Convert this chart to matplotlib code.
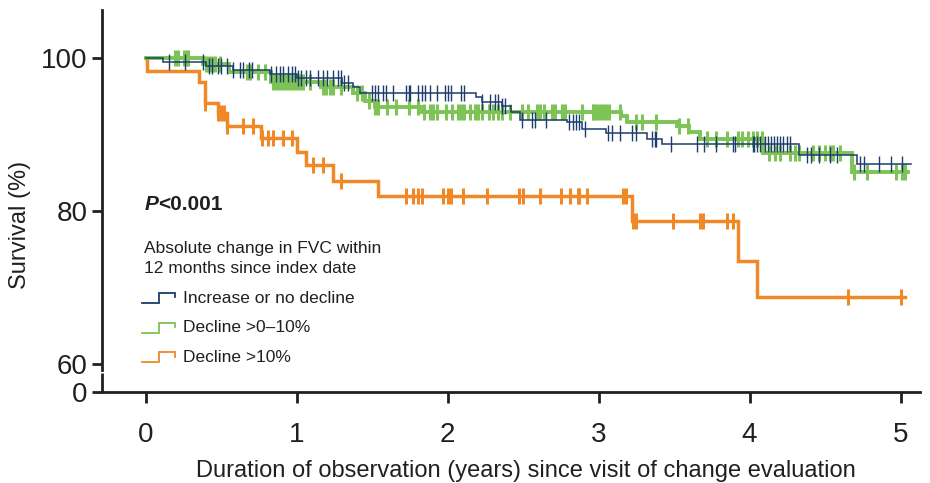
import numpy as np
import matplotlib
matplotlib.use('Agg')
from matplotlib import pyplot as plt

plt.rcParams['font.family'] = ['Liberation Sans', 'DejaVu Sans']

# Kaplan-Meier steps: time (years) and survival (%) after each step
inc_t = [0, 0.11, 0.40, 0.58, 0.82, 1.00, 1.30, 1.37, 1.42, 2.19, 2.23, 2.36, 2.42, 2.48,
         2.79, 2.89, 3.05, 3.32, 3.42, 4.33, 4.71]
inc_s = [100, 99.5, 99.0, 98.5, 98.0, 97.4, 96.8, 96.2, 95.5, 94.9, 94.3, 93.8, 93.0, 91.9,
         91.7, 90.8, 90.2, 89.5, 88.8, 87.4, 86.2]
inc_end = 5.07
inc_cens = [0.15, 0.26, 0.38, 0.42, 0.44, 0.48, 0.50, 0.54, 0.58, 0.62, 0.64, 0.68, 0.70,
            0.83, 0.86, 0.89, 0.91, 0.94, 0.97, 0.99, 1.01, 1.03, 1.06, 1.09, 1.14, 1.17,
            1.20, 1.24, 1.27, 1.29, 1.31, 1.34, 1.50, 1.52, 1.54, 1.57, 1.59, 1.64, 1.72,
            1.74, 1.75, 1.80, 1.83, 1.85, 1.88, 1.93, 1.98, 2.00, 2.02, 2.09, 2.11, 2.23,
            2.28, 2.31, 2.33, 2.36, 2.38, 2.49, 2.56, 2.58, 2.65, 2.80, 2.83, 2.85, 2.87,
            2.91, 3.06, 3.09, 3.14, 3.22, 3.25, 3.35, 3.37, 3.38, 3.48, 3.65, 3.70, 3.78,
            3.89, 3.90, 4.02, 4.03, 4.05, 4.07, 4.10, 4.12, 4.14, 4.16, 4.18, 4.20, 4.22,
            4.25, 4.27, 4.38, 4.41, 4.46, 4.53, 4.58, 4.73, 4.76, 4.86, 4.94, 5.01]

mid_t = [0, 0.38, 0.55, 0.83, 1.16, 1.37, 1.45, 1.52, 1.83, 3.15, 3.19, 3.52, 3.60, 3.67,
         4.09, 4.68]
mid_s = [100, 99.2, 98.2, 96.9, 96.3, 95.5, 94.4, 93.6, 93.0, 92.5, 91.7, 91.2, 90.4, 89.4,
         87.6, 85.1]
mid_end = 5.05
mid_cens = [0.19, 0.21, 0.25, 0.27, 0.28, 0.40, 0.42, 0.44, 0.46, 0.49, 0.67, 0.69, 0.74,
            0.79, 0.84, 0.86, 0.88, 0.90, 0.92, 0.94, 0.96, 0.98, 1.00, 1.02, 1.04, 1.09,
            1.17, 1.19, 1.22, 1.24, 1.29, 1.40, 1.43, 1.48, 1.52, 1.54, 1.60, 1.66, 1.74,
            1.80, 1.84, 1.88, 1.90, 1.93, 1.99, 2.03, 2.07, 2.09, 2.11, 2.15, 2.18, 2.20,
            2.23, 2.27, 2.30, 2.33, 2.36, 2.41, 2.49, 2.53, 2.59, 2.61, 2.64, 2.69, 2.71,
            2.76, 2.78, 2.89, 2.96, 2.97, 2.99, 3.01, 3.03, 3.05, 3.07, 3.14, 3.25, 3.29,
            3.38, 3.53, 3.59, 3.72, 3.78, 3.85, 3.92, 3.95, 3.99, 4.02, 4.05, 4.08, 4.13,
            4.17, 4.20, 4.27, 4.30, 4.33, 4.42, 4.46, 4.50, 4.53, 4.55, 4.60, 4.69, 4.78,
            4.97, 5.01, 5.03]

big_t = [0, 0.01, 0.35, 0.39, 0.48, 0.54, 0.76, 1.00, 1.06, 1.24, 1.54, 3.22, 3.92, 4.05]
big_s = [100, 98.4, 96.9, 94.1, 92.8, 91.2, 89.6, 87.8, 86.0, 84.0, 82.0, 78.7, 73.5, 68.8]
big_end = 5.03
big_cens = [0.39, 0.48, 0.50, 0.52, 0.54, 0.64, 0.71, 0.77, 0.81, 0.84, 0.91, 0.97, 1.11,
            1.17, 1.29, 1.72, 1.77, 1.80, 1.83, 1.97, 2.00, 2.02, 2.10, 2.26, 2.47, 2.50,
            2.61, 2.75, 2.81, 2.86, 2.87, 2.92, 3.16, 3.18, 3.23, 3.25, 3.49, 3.67, 3.69,
            3.85, 3.89, 4.65, 5.00]

groups = ['Increase or no decline', 'Decline >0\u201310%', 'Decline >10%']
colors = ['#1e3c6e', '#7dc355', '#f08828']
xticks = [0, 1, 2, 3, 4, 5]

y_zero = 56.4  # where the "0" tick sits below the axis break

fig = plt.figure(figsize=(9.3, 4.83), dpi=100)
ax = fig.add_axes([0.1094, 0.189, 0.880, 0.790])


def draw_km(t, s, end, cens, color, lw, cw):
    t = np.array(t + [end])
    s = np.array(s + [s[-1]])
    ax.step(t, s, where='post', color=color, lw=lw, solid_joinstyle='miter', zorder=3)
    c = np.array(cens)
    idx = np.searchsorted(t, c, side='right') - 1
    ax.plot(c, s[idx], ls='none', marker='|', ms=12, mew=cw, color=color, zorder=3)


draw_km(big_t, big_s, big_end, big_cens, colors[2], 2.5, 2.2)
draw_km(mid_t, mid_s, mid_end, mid_cens, colors[1], 2.8, 2.2)
draw_km(inc_t, inc_s, inc_end, inc_cens, colors[0], 1.1, 1.0)

ax.set_xlim(-0.293, 5.13)
ax.set_ylim(y_zero, 106.3)
ax.set_xticks(xticks)
ax.set_xticklabels([str(v) for v in xticks])
ax.set_yticks([y_zero, 60, 80, 100])
ax.set_yticklabels(['0', '60', '80', '100'])

axis_col = '#231f20'
for side in ['top', 'right']:
    ax.spines[side].set_visible(False)
ax.spines['bottom'].set_linewidth(2.0)
ax.spines['bottom'].set_color(axis_col)
ax.spines['left'].set_linewidth(2.0)
ax.spines['left'].set_color(axis_col)
# broken y axis between 0 and 60
ax.spines['left'].set_bounds(59.3, 106.3)
ax.plot([0, 0], [0, (58.8 - y_zero) / (106.3 - y_zero)], transform=ax.transAxes,
        color=axis_col, lw=2.0, clip_on=False, solid_capstyle='butt')

ax.tick_params(axis='x', direction='out', length=8, width=2.0, color=axis_col,
               pad=14, labelsize=20, labelcolor='#231f20')
ax.tick_params(axis='y', direction='out', length=7, width=2.0, color=axis_col,
               pad=3, labelsize=20, labelcolor='#231f20')

ax.set_xlabel('Duration of observation (years) since visit of change evaluation',
              fontsize=17, color='#231f20')
ax.xaxis.set_label_coords(0.5185, -0.179)
ax.set_ylabel('Survival (%)', fontsize=17, color='#231f20')
ax.yaxis.set_label_coords(-0.0864, 0.437)

# p-value
p_txt = ax.text(0.0521, 0.491, 'P', transform=ax.transAxes, fontsize=15,
                fontweight='bold', fontstyle='italic', va='center', color='#231f20')
ax.annotate('<0.001', xy=(1, 0), xycoords=p_txt, va='bottom', fontsize=15,
            fontweight='bold', color='#231f20')

# legend
ax.text(0.0518, 0.350, 'Absolute change in FVC within\n12 months since index date',
        transform=ax.transAxes, fontsize=12.5, va='center', linespacing=1.4,
        color='#231f20')
leg_y = [0.245, 0.167, 0.089]
for name, col, yc in zip(groups, colors, leg_y):
    lo = yc - 0.012
    hi = yc + 0.014
    ax.plot([0.049, 0.070, 0.070, 0.089, 0.089], [lo, lo, hi, hi, hi - 0.012],
            transform=ax.transAxes, color=col, lw=1.3, clip_on=False,
            solid_joinstyle='miter')
    ax.text(0.0996, yc, name, transform=ax.transAxes, fontsize=12.5, va='center',
            color='#231f20')

fig.savefig('out.png', dpi=100)
